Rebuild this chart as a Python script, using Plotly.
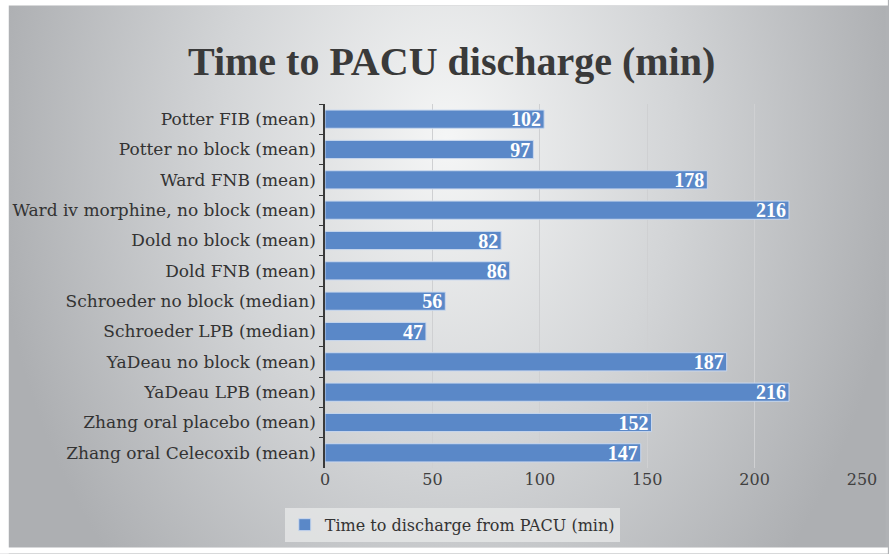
import base64
import plotly.graph_objects as go

categories = [
    "Potter FIB (mean)",
    "Potter no block (mean)",
    "Ward FNB (mean)",
    "Ward iv morphine, no block (mean)",
    "Dold no block (mean)",
    "Dold FNB (mean)",
    "Schroeder no block (median)",
    "Schroeder LPB (median)",
    "YaDeau no block (mean)",
    "YaDeau LPB (mean)",
    "Zhang oral placebo (mean)",
    "Zhang oral Celecoxib (mean)",
]
values = [102, 97, 178, 216, 82, 86, 56, 47, 187, 216, 152, 147]
x_ticks = [0, 50, 100, 150, 200, 250]
series_name = "Time to discharge from PACU (min)"
title_text = "Time to PACU discharge (min)"

SERIF = "DejaVu Serif"
TITLE_FONT = "Liberation Serif"

W, H = 889, 554
ML, MR, MT, MB = 325, 24, 104, 84
PW, PH = W - ML - MR, H - MT - MB

# background panel (decoration only): bright centre fading to grey edges
BG_LEFT, BG_TOP, BG_RIGHT, BG_BOTTOM = 7, 5, W, H - 4
svg = """<svg xmlns='http://www.w3.org/2000/svg' width='100' height='100' viewBox='0 0 100 100' preserveAspectRatio='none'>
<defs><radialGradient id='g' gradientUnits='userSpaceOnUse' cx='50' cy='25' r='52' gradientTransform='translate(50 25) scale(1 2.2) translate(-50 -25)'>
<stop offset='0' stop-color='#f5f6f6'/>
<stop offset='0.5' stop-color='#d3d5d7'/>
<stop offset='1' stop-color='#adafb2'/>
</radialGradient></defs>
<rect x='0' y='0' width='100' height='100' fill='url(#g)'/>
</svg>"""
src = "data:image/svg+xml;base64," + base64.b64encode(svg.encode()).decode()


def px_x(p):
    return (p - ML) / PW


def px_y(p):
    return (MT + PH - p) / PH


white_border = dict(type="rect", xref="paper", yref="paper", layer="below",
                    fillcolor="white", line=dict(width=0))

fig = go.Figure()
fig.add_trace(go.Bar(
    x=values,
    y=categories,
    orientation="h",
    name=series_name,
    marker=dict(color="#5a88c8", line=dict(color="#c9d8ee", width=1)),
    text=[str(v) for v in values],
    textposition="inside",
    insidetextanchor="end",
    textangle=0,
    constraintext="none",
    textfont=dict(family=TITLE_FONT, size=20, color="white", weight="bold"),
    showlegend=True,
))

fig.update_layout(
    width=W,
    height=H,
    paper_bgcolor="#b0b2b5",
    plot_bgcolor="rgba(0,0,0,0)",
    margin=dict(l=ML, r=MR, t=MT, b=MB),
    bargap=0.4,
    title=dict(
        text=title_text,
        x=0.508, xanchor="center",
        y=0.89, yanchor="middle",
        font=dict(family=TITLE_FONT, size=40, color="#3a3a3a", weight="bold"),
    ),
    xaxis=dict(
        range=[0, 250],
        tickvals=x_ticks,
        showgrid=True,
        gridcolor="#cfd0d2",
        gridwidth=1,
        zeroline=False,
        showline=False,
        ticks="",
        tickfont=dict(family=SERIF, size=16, color="#404040"),
        fixedrange=True,
    ),
    yaxis=dict(
        categoryorder="array",
        categoryarray=categories,
        autorange="reversed",
        showgrid=False,
        showline=True,
        linecolor="#3a3a3a",
        linewidth=1.5,
        ticks="outside",
        ticklen=4,
        tickcolor="#3a3a3a",
        tickson="boundaries",
        tickfont=dict(family=SERIF, size=17, color="#333333"),
        ticklabelstandoff=4,
    ),
    legend=dict(
        orientation="h",
        x=(453 - ML) / PW, xanchor="center",
        y=px_y(510), yanchor="top",
        bgcolor="rgba(232,233,234,0.75)",
        font=dict(family=SERIF, size=16, color="#333333"),
    ),
    images=[dict(
        source=src, xref="paper", yref="paper",
        x=px_x(BG_LEFT), y=px_y(BG_TOP),
        sizex=(BG_RIGHT - BG_LEFT) / PW, sizey=(BG_BOTTOM - BG_TOP) / PH,
        xanchor="left", yanchor="top", sizing="stretch", layer="below",
    )],
    shapes=[
        dict(white_border, x0=px_x(-2), x1=px_x(BG_LEFT), y0=px_y(H + 2), y1=px_y(-2)),
        dict(white_border, x0=px_x(-2), x1=px_x(W + 2), y0=px_y(BG_TOP), y1=px_y(-2)),
        dict(white_border, x0=px_x(-2), x1=px_x(W + 2), y0=px_y(H + 2), y1=px_y(BG_BOTTOM)),
    ],
)

fig.write_html("out.html", config={"displayModeBar": False},
               post_script="document.body.style.margin='0';")
